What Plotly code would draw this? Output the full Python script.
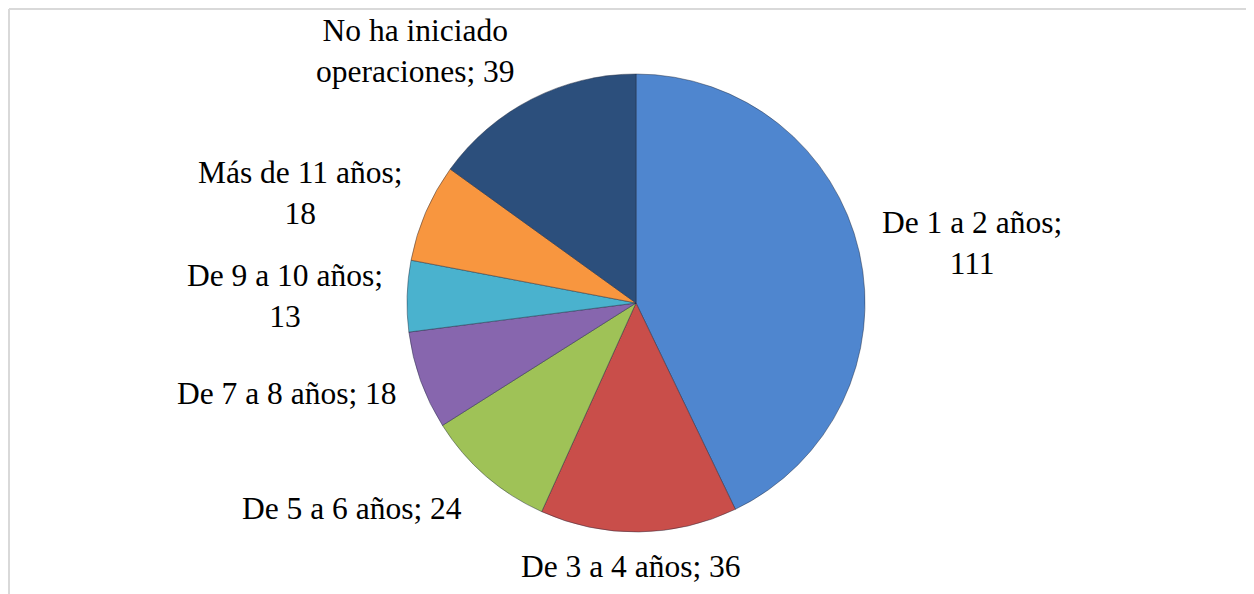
import plotly.graph_objects as go

categories = ["De 1 a 2 años", "De 3 a 4 años", "De 5 a 6 años", "De 7 a 8 años",
              "De 9 a 10 años", "Más de 11 años", "No ha iniciado operaciones"]
values = [111, 36, 24, 18, 13, 18, 39]
colors = ["#4F86CF", "#C94E4A", "#9FC257", "#8766AE", "#4AB2CE", "#F8963F", "#2C4F7C"]

# label text layout (line breaks) and label positions in window pixels (center)
label_text = ["De 1 a 2 años;<br>{v}", "De 3 a 4 años; {v}", "De 5 a 6 años; {v}",
              "De 7 a 8 años; {v}", "De 9 a 10 años;<br>{v}", "Más de 11 años;<br>{v}",
              "No ha iniciado<br>operaciones; {v}"]
label_pos = [(972, 243), (631, 566), (352, 508), (287, 393), (285, 296), (300, 193), (416, 51)]

W, H = 1254, 594
OFF = 8  # page body margin
cx, cy, r = 636 - OFF, 303 - OFF, 229

fig = go.Figure(go.Pie(
    labels=categories,
    values=values,
    sort=False,
    direction="clockwise",
    rotation=0,
    textinfo="none",
    hoverinfo="label+value",
    marker=dict(colors=colors, line=dict(color="rgba(30,40,60,0.45)", width=1)),
    domain=dict(x=[(cx - r) / W, (cx + r) / W], y=[(H - cy - r) / H, (H - cy + r) / H]),
    showlegend=False,
))

for t, v, (px, py) in zip(label_text, values, label_pos):
    fig.add_annotation(
        x=(px - OFF) / W, y=1 - (py - OFF) / H, xref="paper", yref="paper",
        text=t.format(v=v), showarrow=False, xanchor="center", yanchor="middle",
        align="center", font=dict(family="Liberation Serif", size=31.5, color="#000000"),
    )

# chart frame (top and left edges visible)
fig.add_shape(type="line", xref="paper", yref="paper", x0=1 / W, y0=0, x1=1 / W, y1=1 - 1 / H,
              line=dict(color="#D9D9D9", width=2))
fig.add_shape(type="line", xref="paper", yref="paper", x0=1 / W, y0=1 - 1 / H, x1=1, y1=1 - 1 / H,
              line=dict(color="#D9D9D9", width=2))

fig.update_layout(
    width=W, height=H, autosize=False,
    margin=dict(l=0, r=0, t=0, b=0),
    paper_bgcolor="white", plot_bgcolor="white",
)

fig.write_html("out.html")
